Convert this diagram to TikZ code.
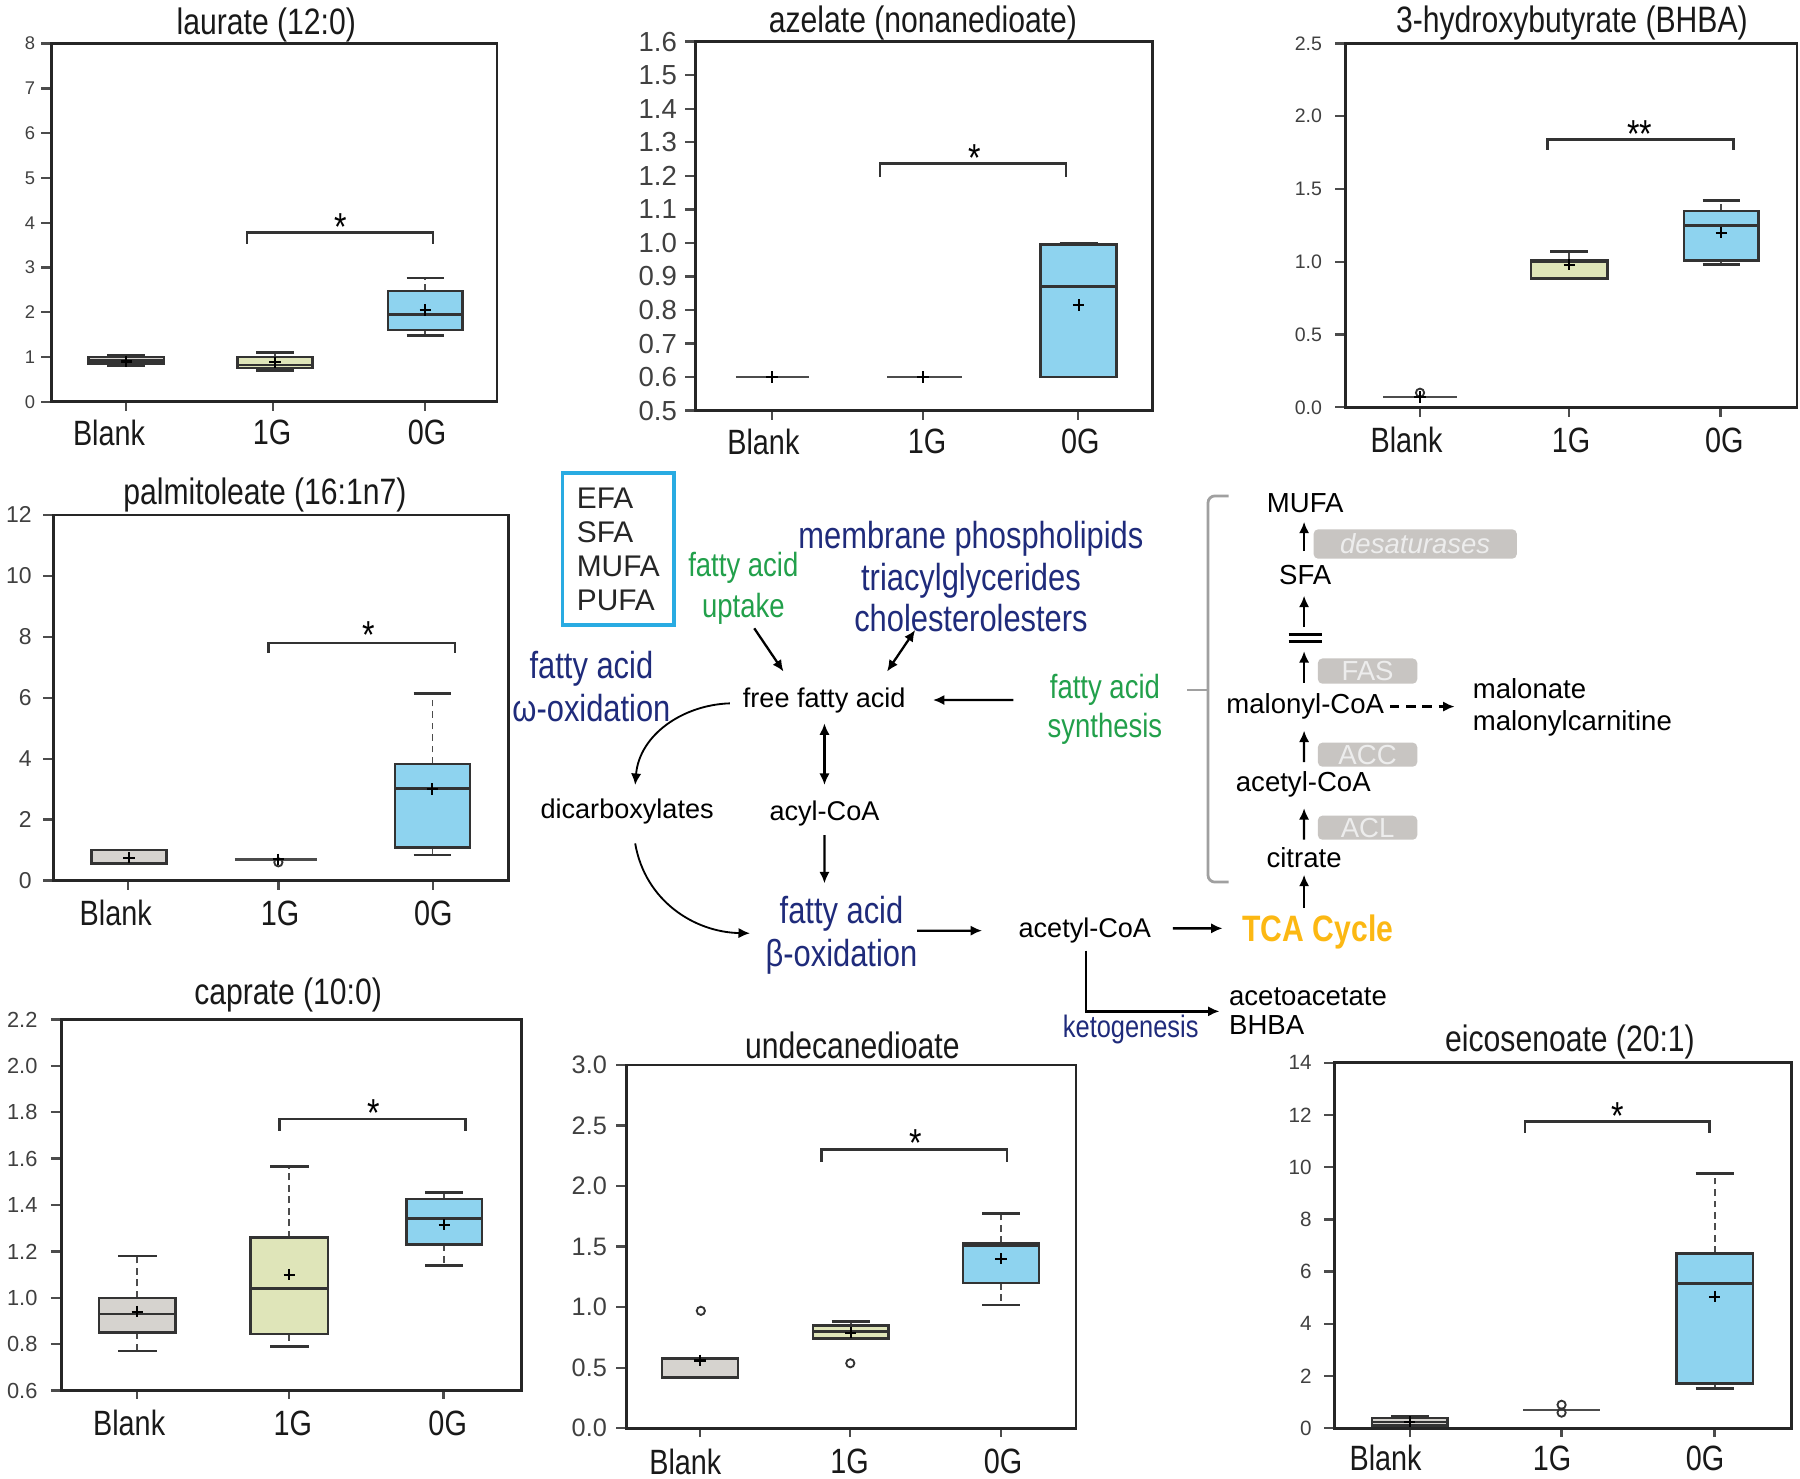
\documentclass[tikz,border=0pt]{standalone}
\usepackage{fontspec}
\setmainfont{Liberation Sans}
\newfontfamily\nar{Liberation Sans}[FakeStretch=0.82]
\usetikzlibrary{calc,arrows.meta}
\definecolor{navy}{HTML}{1F2B7B}
\definecolor{fagreen}{HTML}{22A04B}
\definecolor{tcaor}{HTML}{FCB813}
\definecolor{efacyan}{HTML}{29ABE2}
\definecolor{enzgray}{HTML}{C8C5C2}
\definecolor{bxgray}{HTML}{D6D3CF}
\definecolor{bxgreen}{HTML}{DFE5B9}
\definecolor{bxblue}{HTML}{8ED3EF}
\definecolor{brgray}{HTML}{A0A0A0}
\newcommand\vy[1]{(\pB-((#1)-\pV)*\pS)}
\newcommand\setpanel[3]{\gdef\pB{#1}\gdef\pV{#2}\gdef\pS{#3}}
\newcommand\yticks[4]{\foreach \v/\t in {#4}{\draw[tickl] ({#1-9},{\vy{\v}}) -- (#1,{\vy{\v}}); \node[anchor=east,inner sep=0pt,text=black!75,font=#3] at (#2,{\vy{\v}}) {\t};}}
\newcommand\pmark[2]{\draw[meanm] ({#1-5},{\vy{#2}}) -- ({#1+5},{\vy{#2}}) ({#1},{\vy{#2}-5}) -- ({#1},{\vy{#2}+5});}
\newcommand\bxp[9]{%
 \draw[whisk] (#1,{\vy{#4}}) -- (#1,{\vy{#8}});
 \draw[whisk] (#1,{\vy{#3}}) -- (#1,{\vy{#7}});
 \draw[wcap] ({#1-#2*0.5},{\vy{#8}}) -- ({#1+#2*0.5},{\vy{#8}});
 \draw[wcap] ({#1-#2*0.5},{\vy{#7}}) -- ({#1+#2*0.5},{\vy{#7}});
 \draw[boxs,fill=#9] ({#1-#2},{\vy{#3}}) rectangle ({#1+#2},{\vy{#4}});
 \draw[medl] ({#1-#2},{\vy{#5}}) -- ({#1+#2},{\vy{#5}});
 \pmark{#1}{#6}}
\newcommand\sigbr[4]{\draw[brk] (#1,{\vy{#4}}) -- (#1,{\vy{#3}}) -- (#2,{\vy{#3}}) -- (#2,{\vy{#4}});}
\newcommand\flatline[3]{\draw[flatl] (#1,{\vy{#3}}) -- (#2,{\vy{#3}});}
\newcommand\outl[2]{\draw[outs] (#1,{\vy{#2}}) circle[radius=1.8pt];}
\begin{document}
\begin{tikzpicture}[x=0.5pt,y=-0.5pt,
 plotframe/.style={draw=black!85,line width=1.2pt},
 tickl/.style={draw=black!70,line width=1pt},
 whisk/.style={draw=black!70,densely dashed,line width=0.8pt},
 wcap/.style={draw=black!80,line width=1.1pt},
 boxs/.style={draw=black!80,line width=1.1pt},
 medl/.style={draw=black!80,line width=1.1pt},
 meanm/.style={draw=black,line width=0.9pt},
 flatl/.style={draw=black!70,line width=1.1pt},
 outs/.style={draw=black!80,line width=0.8pt},
 brk/.style={draw=black!80,line width=1.1pt},
 ttl/.style={font=\nar\fontsize{16}{18}\selectfont,inner sep=0pt,text=black!90},
 cat/.style={font=\nar\fontsize{15.3}{17}\selectfont,inner sep=0pt,text=black!90},
 sigstar/.style={font=\nar\fontsize{17}{17}\selectfont,inner sep=0pt},
 blk/.style={font=\fontsize{11.8}{13}\selectfont,inner sep=0pt},
 blk2/.style={font=\fontsize{12}{13}\selectfont,inner sep=0pt},
 navt/.style={text=navy,align=center,inner sep=0pt},
 grt/.style={text=fagreen,align=center,inner sep=0pt},
 efab/.style={draw=efacyan,line width=1.6pt,minimum width=48.6pt,minimum height=66pt,align=left,font=\fontsize{13}{14.8}\selectfont,text=black!85},
 tcat/.style={text=tcaor,font=\nar\bfseries\fontsize{16}{18}\selectfont,inner sep=0pt},
 enz/.style={fill=enzgray,rounded corners=2pt,text=white!93!black,font=\fontsize{12}{12}\selectfont,inner sep=0pt},
 arr/.style={-{Latex[length=5pt,width=4.5pt]},line width=1pt},
 darr/.style={{Latex[length=5pt,width=4.5pt]}-{Latex[length=5pt,width=4.5pt]},line width=1pt},
 brkt/.style={draw=brgray,line width=1.2pt,rounded corners=3pt}]
\fill[white] (0,0) rectangle (1568,1288);
\useasboundingbox (0,0) rectangle (1568,1288);

% ---------- Panel A: laurate ----------
\setpanel{350}{0}{39}
\node[ttl] (tA) at (232,22) {laurate (12:0)};
\yticks{45}{31}{\fontsize{8}{9}\selectfont}{0/0,1/1,2/2,3/3,4/4,5/5,6/6,7/7,8/8}
\foreach \x in {110,238,370} \draw[tickl] (\x,350) -- (\x,358);
\node[cat] (aB) at (95,377) {Blank};
\node[cat] (a1) at (237,377) {1G};
\node[cat] (a0) at (372,377) {0G};
\bxp{110}{33}{0.85}{1.0}{0.92}{0.9}{0.8}{1.05}{bxgray}
\bxp{239.5}{32.5}{0.75}{1.0}{0.82}{0.88}{0.7}{1.1}{bxgreen}
\bxp{370.5}{32.5}{1.6}{2.47}{1.95}{2.05}{1.48}{2.76}{bxblue}
\sigbr{215}{377}{3.78}{3.53}
\node[sigstar] (sA) at (297,198) {*};
\draw[plotframe] (45,37.7) rectangle (433,350);

% ---------- Panel B: azelate ----------
\setpanel{357.7}{0.5}{292.2}
\node[ttl] (tB) at (804,20.3) {azelate (nonanedioate)};
\yticks{606}{590}{\fontsize{12}{13}\selectfont}{0.5/0.5,0.6/0.6,0.7/0.7,0.8/0.8,0.9/0.9,1.0/1.0,1.1/1.1,1.2/1.2,1.3/1.3,1.4/1.4,1.5/1.5,1.6/1.6}
\foreach \x in {672.6,804,939.3} \draw[tickl] (\x,357.7) -- (\x,366);
\node[cat] (bB) at (665,384.7) {Blank};
\node[cat] (b1) at (807.6,384.7) {1G};
\node[cat] (b0) at (941,384.7) {0G};
\flatline{641}{705}{0.6}
\pmark{672.6}{0.6}
\flatline{773}{838}{0.6}
\pmark{804}{0.6}
\bxp{939.6}{33}{0.6}{0.995}{0.87}{0.815}{0.6}{1.0}{bxblue}
\sigbr{766.6}{928.6}{1.237}{1.197}
\node[sigstar] (sB) at (849,138) {*};
\draw[plotframe] (606,36.3) rectangle (1004,357.7);

% ---------- Panel C: 3-hydroxybutyrate ----------
\setpanel{354.8}{0}{126.8}
\node[ttl] (tC) at (1369.3,20.3) {3-hydroxybutyrate (BHBA)};
\yticks{1172}{1152}{\fontsize{8.5}{9}\selectfont}{0/0.0,0.5/0.5,1/1.0,1.5/1.5,2/2.0,2.5/2.5}
\foreach \x in {1237,1367,1498.6} \draw[tickl] (\x,354.8) -- (\x,363);
\node[cat] (cB) at (1225.3,383.3) {Blank};
\node[cat] (c1) at (1368.6,383.3) {1G};
\node[cat] (c0) at (1502,383.3) {0G};
\flatline{1205}{1269}{0.07}
\outl{1237}{0.1}
\pmark{1237}{0.07}
\bxp{1367}{33.3}{0.886}{1.01}{1.0}{0.98}{0.886}{1.07}{bxgreen}
\bxp{1499.5}{32.5}{1.01}{1.35}{1.25}{1.2}{0.98}{1.42}{bxblue}
\sigbr{1348}{1510}{1.84}{1.77}
\node[sigstar] (sC) at (1428.6,117) {**};
\draw[plotframe] (1172,37.7) rectangle (1565.3,354.8);

% ---------- Panel D: palmitoleate ----------
\setpanel{767.1}{0}{26.55}
\node[ttl] (tD) at (230.8,431.2) {palmitoleate (16:1n7)};
\yticks{46.5}{28}{\fontsize{10}{11}\selectfont}{0/0,2/2,4/4,6/6,8/8,10/10,12/12}
\foreach \x in {111.2,242.5,376.9} \draw[tickl] (\x,767.1) -- (\x,775);
\node[cat] (dB) at (100.8,795.6) {Blank};
\node[cat] (d1) at (243.9,795.6) {1G};
\node[cat] (d0) at (377.5,795.6) {0G};
\bxp{112.5}{32.7}{0.55}{1.0}{0.57}{0.75}{0.55}{1.0}{bxgray}
\flatline{204.7}{275.8}{0.7}
\outl{242.5}{0.6}
\pmark{242.5}{0.7}
\bxp{376.7}{32.7}{1.09}{3.83}{3.03}{3.0}{0.84}{6.14}{bxblue}
\sigbr{233.7}{396.3}{7.8}{7.48}
\node[sigstar] (sD) at (320.8,553) {*};
\draw[plotframe] (46.5,448.6) rectangle (442.8,767.1);

% ---------- Panel E: caprate ----------
\setpanel{1211.3}{0.6}{202}
\node[ttl] (tE) at (251,866.7) {caprate (10:0)};
\yticks{53.4}{33}{\fontsize{9.5}{10}\selectfont}{0.6/0.6,0.8/0.8,1.0/1.0,1.2/1.2,1.4/1.4,1.6/1.6,1.8/1.8,2.0/2.0,2.2/2.2}
\foreach \x in {119.4,252,386.4} \draw[tickl] (\x,1211.3) -- (\x,1219);
\node[cat] (eB) at (112.5,1239.8) {Blank};
\node[cat] (e1) at (255,1239.8) {1G};
\node[cat] (e0) at (390,1239.8) {0G};
\bxp{119.7}{33.3}{0.85}{1.0}{0.93}{0.94}{0.77}{1.18}{bxgray}
\bxp{252}{33.6}{0.844}{1.26}{1.04}{1.10}{0.79}{1.566}{bxgreen}
\bxp{387}{33}{1.23}{1.425}{1.343}{1.315}{1.14}{1.455}{bxblue}
\sigbr{243.6}{405.6}{1.77}{1.72}
\node[sigstar] (sE) at (325.5,970) {*};
\draw[plotframe] (53.4,887.9) rectangle (454.5,1211.3);

% ---------- Panel F: undecanedioate ----------
\setpanel{1244.2}{0}{105.5}
\node[ttl] (tF) at (742.5,910.2) {undecanedioate};
\yticks{545.6}{529}{\fontsize{11}{12}\selectfont}{0/0.0,0.5/0.5,1/1.0,1.5/1.5,2/2.0,2.5/2.5,3/3.0}
\foreach \x in {609.7,740.7,872} \draw[tickl] (\x,1244.2) -- (\x,1252);
\node[cat] (fB) at (597,1273.2) {Blank};
\node[cat] (f1) at (740,1273.2) {1G};
\node[cat] (f0) at (873.8,1273.2) {0G};
\bxp{609.7}{33}{0.42}{0.578}{0.42}{0.56}{0.42}{0.578}{bxgray}
\outl{610.5}{0.97}
\bxp{741}{33}{0.74}{0.85}{0.8}{0.79}{0.74}{0.88}{bxgreen}
\outl{740.7}{0.537}
\bxp{872}{33}{1.2}{1.53}{1.51}{1.4}{1.02}{1.775}{bxblue}
\sigbr{715.4}{877.4}{2.30}{2.20}
\node[sigstar] (sF) at (797.9,996) {*};
\draw[plotframe] (545.6,927.7) rectangle (937.2,1244.2);

% ---------- Panel G: eicosenoate ----------
\setpanel{1244.2}{0}{22.75}
\node[ttl] (tG) at (1367.6,907.4) {eicosenoate (20:1)};
\yticks{1162.6}{1143}{\fontsize{9}{10}\selectfont}{0/0,2/2,4/4,6/6,8/8,10/10,12/12,14/14}
\foreach \x in {1228,1360.3,1493.6} \draw[tickl] (\x,1244.2) -- (\x,1252);
\node[cat] (gB) at (1207,1270.3) {Blank};
\node[cat] (g1) at (1352,1270.3) {1G};
\node[cat] (g0) at (1485.3,1270.3) {0G};
\bxp{1228}{33}{0.1}{0.4}{0.25}{0.25}{0.05}{0.45}{bxgray}
\flatline{1327}{1393.6}{0.7}
\outl{1360.3}{0.6}
\outl{1360.3}{0.9}
\bxp{1493.6}{33.3}{1.72}{6.7}{5.55}{5.04}{1.53}{9.76}{bxblue}
\sigbr{1328.6}{1489.3}{11.74}{11.32}
\node[sigstar] (sG) at (1409.3,972) {*};
\draw[plotframe] (1162.6,925.7) rectangle (1560.3,1244.2);

% ---------- Pathway ----------
\node[efab] (efa) at (538.6,478.3) {EFA\\SFA\\MUFA\\PUFA};
\node[grt,font=\nar\fontsize{14.6}{17.5}\selectfont] (upt) at (647.5,512.5) {fatty acid\\uptake};
\node[navt,font=\nar\fontsize{16.4}{18.15}\selectfont] (mem) at (845.8,502.3) {membrane phospholipids\\triacylglycerides\\cholesterolesters};
\node[navt,font=\nar\fontsize{16.4}{18.9}\selectfont] (omega) at (515.2,598) {fatty acid\\ω-oxidation};
\node[blk] (ffa) at (718,610) {free fatty acid};
\node[grt,font=\nar\fontsize{14.6}{16.8}\selectfont] (syn) at (962.5,617.8) {fatty acid\\synthesis};
\node[blk] (dic) at (546.3,707) {dicarboxylates};
\node[blk] (acyl) at (718.2,708.5) {acyl-CoA};
\node[navt,font=\nar\fontsize{16.4}{18.9}\selectfont] (beta) at (733,814.5) {fatty acid\\β-oxidation};
\node[blk] (acet) at (945,810.2) {acetyl-CoA};
\node[tcat] (tca) at (1148,812) {TCA Cycle};
\node[navt,font=\nar\fontsize{13.5}{15}\selectfont] (keto) at (985,897) {ketogenesis};
\node[blk2,anchor=west,align=left,font=\fontsize{12}{12.6}\selectfont] (kprod) at (1070.3,881) {acetoacetate\\BHBA};

\node[blk2] (mufa) at (1137,438.4) {MUFA};
\node[blk2] (sfa) at (1137,501.2) {SFA};
\node[blk2] (mal) at (1137,615.5) {malonyl-CoA};
\node[blk2] (acet2) at (1135.3,683.1) {acetyl-CoA};
\node[blk2] (cit) at (1136,747.5) {citrate};
\node[blk2,anchor=west,align=left,font=\fontsize{12}{13.7}\selectfont] (mlt) at (1282.6,616.3) {malonate\\malonylcarnitine};
\node[enz,minimum width=88.5pt,minimum height=12.8pt,font=\itshape\fontsize{12}{12}\selectfont] (desat) at (1232.8,473.9) {desaturases};
\node[enz,minimum width=43.3pt,minimum height=11pt] (fas) at (1191.3,584.6) {FAS};
\node[enz,minimum width=43.3pt,minimum height=10.5pt] (acc) at (1191.3,657.4) {ACC};
\node[enz,minimum width=43.3pt,minimum height=10.5pt] (acl) at (1191.3,721) {ACL};
\coordinate (eqs) at (1137,555.9);
\draw[line width=1.3pt] ($(eqs)+(-14.5,-3.2)$) -- ($(eqs)+(14.5,-3.2)$);
\draw[line width=1.3pt] ($(eqs)+(-14.5,3.2)$) -- ($(eqs)+(14.5,3.2)$);

% bracket
\draw[brkt] (1070.3,432) -- (1052.3,432) -- (1052.3,768.4) -- (1070.3,768.4);
\draw[brkt] (1052.3,601) -- (1034.2,601);

% arrows
\draw[arr] ($(upt)+(9.5,34.8)$) -- ($(ffa)+(-35.5,-25)$);
\draw[darr] ($(mem)+(-48.6,46.5)$) -- ($(ffa)+(54.7,-25)$);
\draw[arr] ($(syn)+(-79.8,-8)$) -- ($(ffa)+(94.7,-0.2)$);
\draw[darr] ($(ffa)+(0.2,20.1)$) -- ($(acyl)+(0,-24.7)$);
\draw[arr] ($(acyl)+(0,18.9)$) -- ($(beta)+(-14.8,-45)$);
\draw[arr,line width=0.8pt] ($(ffa)+(-82.2,2.7)$) .. controls (595,614) and (557,640) .. ($(dic)+(7,-23.2)$);
\draw[arr,line width=0.8pt] ($(dic)+(7,27.7)$) .. controls (562,785) and (605,812) .. ($(beta)+(-79.7,-1.5)$);
\draw[arr] ($(beta)+(66,-3.8)$) -- ($(acet)+(-89.5,0.5)$);
\draw[arr] ($(acet)+(76.6,-1.5)$) -- ($(tca)+(-83,-3.3)$);
\draw[arr] ($(acet)+(1,18)$) |- ($(kprod.west)+(-8,0)$);
\draw[arr] ($(sfa)+(-1,-21)$) -- ($(mufa)+(-1,16.1)$);
\draw[arr] ($(eqs)+(-1,-9.7)$) -- ($(sfa)+(-1,17.7)$);
\draw[arr] ($(mal)+(-1,-20.9)$) -- ($(eqs)+(-1,11.3)$);
\draw[arr] ($(acet2)+(0.7,-19.3)$) -- ($(mal)+(-1,20.9)$);
\draw[arr] ($(cit)+(0,-16.1)$) -- ($(acet2)+(0.7,20.9)$);
\draw[arr] ($(tca)+(-12,-21)$) -- ($(cit)+(0,14.5)$);
\draw[arr,dash pattern=on 4pt off 3pt] ($(mal)+(74.1,0)$) -- ($(mlt.west)+(-15.5,-0.8)$);
\end{tikzpicture}
\end{document}
